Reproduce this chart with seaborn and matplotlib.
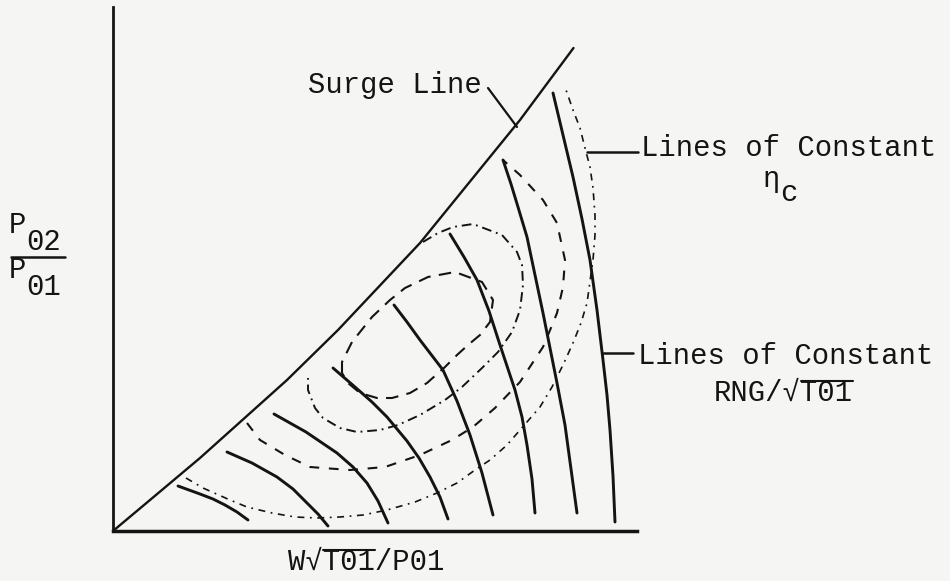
import matplotlib
matplotlib.use("Agg")
import matplotlib.pyplot as plt
from matplotlib.lines import Line2D
import seaborn as sns
import pandas as pd

# ---------------- data (flow axis x, pressure-ratio axis y, arbitrary units) ----------------
surge_x = [0, 37, 87, 174, 225, 307, 407, 460.5]
surge_y = [0, 31, 73, 151, 201, 288, 411, 483]

# lines of constant RNG/sqrt(T01) (solid)
rng1_x = [65, 76, 87, 100, 112, 124, 135]
rng1_y = [45, 41, 37, 32, 26, 19, 11]
rng2_x = [114, 139, 164, 180, 194, 205, 215]
rng2_y = [79, 68, 54, 42, 28, 17, 5]
rng3_x = [161, 193, 224, 240, 254, 265, 275]
rng3_y = [117, 99, 78, 64, 48, 30, 8]
rng4_x = [220, 242, 259, 274, 294, 306, 317, 327, 335]
rng4_y = [163, 144, 129, 114, 90, 73, 54, 34, 12]
rng5_x = [281, 294, 307, 330, 344, 357, 369, 380]
rng5_y = [226, 209, 191, 161, 130, 96, 58, 16]
rng6_x = [337, 351, 364, 376, 387, 402, 409, 414, 419, 422]
rng6_y = [297, 274, 251, 220, 186, 141, 114, 86, 52, 18]
rng7_x = [390, 398, 405, 414, 422, 430, 437, 444, 452, 458, 464]
rng7_y = [371, 347, 324, 294, 256, 218, 183, 148, 106, 62, 18]
rng8_x = [440, 450, 460, 469, 477, 484, 490, 494, 497, 500, 502]
rng8_y = [438, 396, 354, 312, 271, 221, 171, 136, 101, 55, 9]

# lines of constant efficiency (dashed)
eff1_x = [229, 229, 239, 259, 277, 292, 315, 342, 369, 380, 377, 367, 355, 344, 332, 314,
          297, 279, 264, 247, 235, 229]
eff1_y = [158, 169, 189, 214, 231, 243, 254, 259, 249, 231, 209, 196, 186, 176, 164, 148,
          138, 133, 133, 138, 148, 158]
eff2_x = [310, 325, 340, 360, 389, 404, 409, 410, 407, 399, 385, 369, 349, 332, 307, 285,
          267, 244, 227, 210, 202, 195, 195]
eff2_y = [289, 298, 304, 307, 296, 279, 266, 246, 221, 199, 179, 163, 144, 131, 116, 106,
          101, 99, 103, 113, 123, 141, 153]
eff3_x = [134, 147, 172, 197, 210, 237, 272, 307, 339, 360, 382, 407, 430, 440, 444, 450,
          452, 444, 430, 407, 390]
eff3_y = [108, 91, 76, 64, 63, 61, 64, 76, 91, 104, 123, 149, 184, 208, 218, 244,
          271, 308, 331, 356, 371]
eff4_x = [73, 90, 117, 134, 159, 182, 204, 227, 250, 274, 302, 324, 344, 362, 377, 394,
          427, 439, 450, 460, 468, 474, 480, 482, 482, 480, 477, 472, 467, 460, 452]
eff4_y = [53, 43, 31, 24, 18, 14, 13, 14, 16, 21, 29, 38, 48, 61, 71, 86,
          124, 144, 166, 188, 208, 228, 271, 296, 316, 343, 364, 383, 403, 421, 444]

# ---------------- figure ----------------
BG = "#f5f5f3"
INK = "#141414"
W, H = 950, 581

sns.set_theme(style="white")
plt.rcParams["font.family"] = ["Liberation Mono", "DejaVu Sans Mono", "DejaVu Sans"]
plt.rcParams["lines.scale_dashes"] = False
plt.rcParams["lines.solid_capstyle"] = "round"
plt.rcParams["lines.dash_capstyle"] = "butt"

fig = plt.figure(figsize=(W / 100, H / 100), dpi=100, facecolor=BG)
ax = fig.add_axes([113 / W, 50 / H, 524 / W, 524 / H])
ax.set_facecolor(BG)


def draw(xs, ys, lw, ls="-"):
    df = pd.DataFrame({"x": xs, "y": ys})
    sns.lineplot(data=df, x="x", y="y", sort=False, estimator=None, color=INK,
                 linewidth=lw, ax=ax, legend=False)
    line = ax.lines[-1]
    line.set_linestyle(ls)
    line.set_clip_on(False)


draw(surge_x, surge_y, 1.7)
for xs, ys in [(rng1_x, rng1_y), (rng2_x, rng2_y), (rng3_x, rng3_y), (rng4_x, rng4_y),
               (rng5_x, rng5_y), (rng6_x, rng6_y), (rng7_x, rng7_y), (rng8_x, rng8_y)]:
    draw(xs, ys, 2.1)

draw(eff1_x, eff1_y, 1.5, (0, (9, 6)))
draw(eff2_x, eff2_y, 1.4, (0, (7, 3.5, 1.3, 3.5)))
draw(eff3_x, eff3_y, 1.5, (0, (7, 7)))
draw(eff4_x, eff4_y, 1.2, (0, (5, 4, 1.3, 4)))

# leader lines for the annotations
ax.add_line(Line2D([375, 404], [443, 404], color=INK, lw=1.6, clip_on=False))
ax.add_line(Line2D([474, 525], [379, 379], color=INK, lw=1.8, clip_on=False))
ax.add_line(Line2D([490, 520], [178, 178], color=INK, lw=1.8, clip_on=False))

ax.set_xlim(0, 524)
ax.set_ylim(0, 524)
ax.set_xticks([])
ax.set_yticks([])
ax.set_xlabel("")
ax.set_ylabel("")
sns.despine(ax=ax)
ax.spines["left"].set_linewidth(2.0)
ax.spines["bottom"].set_linewidth(2.5)
ax.spines["left"].set_color(INK)
ax.spines["bottom"].set_color(INK)

# ---------------- text ----------------
FS = 20.8
CW = FS * 0.6 * 100 / 72  # monospace advance in px


def fx(px):
    return px / W


def fy(py):
    return 1 - py / H


def txt(px, py, s):
    fig.text(fx(px), fy(py), s, fontsize=FS, color=INK, ha="left", va="baseline")


def hline(x0, x1, py, lw=1.5):
    fig.add_artist(Line2D([fx(x0), fx(x1)], [fy(py), fy(py)], color=INK, lw=lw,
                          transform=fig.transFigure))


txt(308, 93, "Surge Line")
txt(641, 156, "Lines of Constant")
txt(762, 187, "η")
txt(780, 201, "c")
txt(638, 364, "Lines of Constant")
rng_left = 714
txt(rng_left, 401, "RNG/√T01")
hline(rng_left + 5 * CW, rng_left + 8 * CW, 381)

xl_left = 288
txt(xl_left, 570, "W√T01/P01")
hline(xl_left + 2 * CW, xl_left + 5 * CW, 550)

# y-axis label as a fraction
txt(9, 233, "P")
txt(9 + CW, 250, "02")
hline(11, 65, 257, lw=1.8)
txt(9, 278, "P")
txt(9 + CW, 295, "01")

fig.savefig("out.png", dpi=100, facecolor=BG)
